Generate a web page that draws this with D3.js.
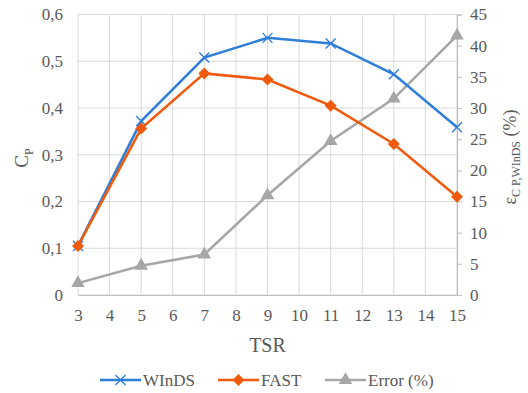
<!DOCTYPE html>
<html><head><meta charset="utf-8">
<script src="https://cdn.jsdelivr.net/npm/d3@7"></script>
<style>body{margin:0;background:#fff}svg{display:block}</style>
</head><body><svg id="c" width="528" height="393"></svg>
<script>
const tsr = [3, 5, 7, 9, 11, 13, 15];
const winds = [0.105, 0.372, 0.508, 0.550, 0.538, 0.472, 0.359];
const fast = [0.105, 0.356, 0.474, 0.461, 0.405, 0.323, 0.210];
const errorPct = [1.9, 4.7, 6.5, 16.0, 24.7, 31.5, 41.6];
const xTicks = d3.range(3, 16);
const yLeftTicks = [0, 0.1, 0.2, 0.3, 0.4, 0.5, 0.6];
const yRightTicks = [0, 5, 10, 15, 20, 25, 30, 35, 40, 45];
const fmt = d => d === 0 ? "0" : d3.format(".1f")(d).replace(".", ",");

const FONT = "Liberation Serif, DejaVu Serif, Times New Roman, serif";
const svg = d3.select("#c");
const L = 78, R = 457, T = 14.5, B = 295;
const FS = 17;
const x = d3.scaleLinear().domain([3, 15]).range([L, R]);
const yL = d3.scaleLinear().domain([0, 0.6]).range([B, T]);
const yR = d3.scaleLinear().domain([0, 45]).range([B, T]);
const grid = "#d9d9d9", axisC = "#bfbfbf";

// grid
svg.append("g").selectAll("line").data(xTicks).join("line")
  .attr("x1", d => x(d)).attr("x2", d => x(d)).attr("y1", T).attr("y2", B)
  .attr("stroke", grid).attr("stroke-width", 1);
svg.append("g").selectAll("line").data(yLeftTicks).join("line")
  .attr("x1", L).attr("x2", R).attr("y1", d => yL(d)).attr("y2", d => yL(d))
  .attr("stroke", grid).attr("stroke-width", 1);

// bottom axis
const xa = svg.append("g").attr("transform", `translate(0,${B})`)
  .call(d3.axisBottom(x).tickValues(xTicks).tickSize(0).tickPadding(14).tickFormat(d3.format("d")));
xa.select(".domain").attr("stroke", axisC).attr("stroke-width", 1.2);

// left axis
const ya = svg.append("g").attr("transform", `translate(${L},0)`)
  .call(d3.axisLeft(yL).tickValues(yLeftTicks).tickSize(0).tickPadding(15).tickFormat(fmt));
ya.select(".domain").remove();

// right axis
const yra = svg.append("g").attr("transform", `translate(${R},0)`)
  .call(d3.axisRight(yR).tickValues(yRightTicks).tickSize(5).tickPadding(8));
yra.select(".domain").attr("stroke", axisC).attr("stroke-width", 1.2);
yra.selectAll("line").attr("stroke", axisC);

[xa, ya, yra].forEach(a => a.attr("font-family", null).attr("font-size", null)
  .selectAll("text").style("font-size", FS + "px"));

// titles
svg.append("text").attr("x", x(9)).attr("y", 352).attr("text-anchor", "middle").style("font-size", "20px").text("TSR");
const lt = svg.append("text").attr("transform", "translate(28,158) rotate(-90)").attr("text-anchor", "middle").style("font-size", "19px");
lt.append("tspan").text("C");
lt.append("tspan").style("font-size", "12px").attr("dy", 5).text("P");
const rt = svg.append("text").attr("transform", "translate(516,157) rotate(-90)").attr("text-anchor", "middle").style("font-size", "18px");
rt.append("tspan").text("ε");
rt.append("tspan").style("font-size", "12px").attr("dy", 4).text("C P,WInDS");
rt.append("tspan").attr("dy", -4).text(" (%)");

const cBlue = "#2f7ed8", cOrange = "#f05a0e", cGray = "#a6a6a6";
const lineL = d3.line().x((d, i) => x(tsr[i])).y(d => yL(d));
const lineR = d3.line().x((d, i) => x(tsr[i])).y(d => yR(d));

const crossPath = "M-5,-5L5,5M-5,5L5,-5";
const diamond = "M0,-6L6,0L0,6L-6,0Z";
const tri = d3.symbol(d3.symbolTriangle, 80)();

function marker(sel, kind, color) {
  if (kind === "x") sel.attr("d", crossPath).attr("stroke", color).attr("stroke-width", 1.4).attr("fill", "none");
  else sel.attr("d", kind === "d" ? diamond : tri).attr("fill", color);
}
function series(vals, line, y, color, kind) {
  svg.append("path").datum(vals).attr("d", line).attr("fill", "none").attr("stroke", color).attr("stroke-width", 2.5);
  const g = svg.append("g").selectAll("path").data(vals).join("path")
    .attr("transform", (d, i) => `translate(${x(tsr[i])},${y(d)})`);
  marker(g, kind, color);
}
series(errorPct, lineR, yR, cGray, "t");
series(winds, lineL, yL, cBlue, "x");
series(fast, lineL, yL, cOrange, "d");

// legend
const leg = [
  {name: "WInDS", color: cBlue, kind: "x", x0: 100},
  {name: "FAST", color: cOrange, kind: "d", x0: 218},
  {name: "Error (%)", color: cGray, kind: "t", x0: 325}
];
const lg = svg.append("g");
leg.forEach(d => {
  const yy = 380;
  lg.append("line").attr("x1", d.x0).attr("x2", d.x0 + 41).attr("y1", yy).attr("y2", yy).attr("stroke", d.color).attr("stroke-width", 2.5);
  marker(lg.append("path").attr("transform", `translate(${d.x0 + 20.5},${yy})`), d.kind, d.color);
  lg.append("text").attr("x", d.x0 + 43).attr("y", yy + 5.5).style("font-size", FS + "px").text(d.name);
});

svg.selectAll("text").style("font-family", FONT).style("fill", "#595959");
</script></body></html>
